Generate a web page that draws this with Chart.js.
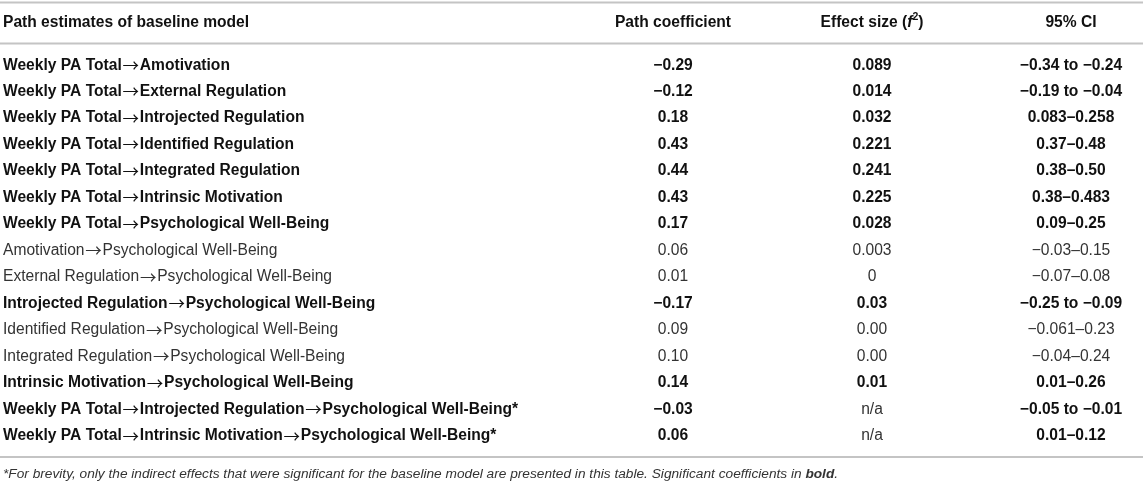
<!DOCTYPE html>
<html>
<head>
<meta charset="utf-8">
<title>Path estimates of baseline model</title>
<script src="https://cdn.jsdelivr.net/npm/chart.js@4.4.0/dist/chart.umd.min.js"></script>
<style>
  html, body { margin: 0; padding: 0; background: #fff; }
  #wrap { width: 1143px; height: 484px; position: relative; }
</style>
</head>
<body>
<div id="wrap"><canvas id="path-table"></canvas></div>
<script>
// Table content
const headers = ["Path estimates of baseline model", "Path coefficient", "Effect size", "95% CI"];

const paths = [
  "Weekly PA Total\u2192Amotivation",
  "Weekly PA Total\u2192External Regulation",
  "Weekly PA Total\u2192Introjected Regulation",
  "Weekly PA Total\u2192Identified Regulation",
  "Weekly PA Total\u2192Integrated Regulation",
  "Weekly PA Total\u2192Intrinsic Motivation",
  "Weekly PA Total\u2192Psychological Well-Being",
  "Amotivation\u2192Psychological Well-Being",
  "External Regulation\u2192Psychological Well-Being",
  "Introjected Regulation\u2192Psychological Well-Being",
  "Identified Regulation\u2192Psychological Well-Being",
  "Integrated Regulation\u2192Psychological Well-Being",
  "Intrinsic Motivation\u2192Psychological Well-Being",
  "Weekly PA Total\u2192Introjected Regulation\u2192Psychological Well-Being*",
  "Weekly PA Total\u2192Intrinsic Motivation\u2192Psychological Well-Being*"
];

const pathCoefficients = ["\u22120.29", "\u22120.12", "0.18", "0.43", "0.44", "0.43", "0.17",
  "0.06", "0.01", "\u22120.17", "0.09", "0.10", "0.14", "\u22120.03", "0.06"];

const effectSizes = ["0.089", "0.014", "0.032", "0.221", "0.241", "0.225", "0.028",
  "0.003", "0", "0.03", "0.00", "0.00", "0.01", "n/a", "n/a"];

const confidenceIntervals = [
  "\u22120.34 to \u22120.24", "\u22120.19 to \u22120.04", "0.083\u20130.258", "0.37\u20130.48",
  "0.38\u20130.50", "0.38\u20130.483", "0.09\u20130.25", "\u22120.03\u20130.15", "\u22120.07\u20130.08",
  "\u22120.25 to \u22120.09", "\u22120.061\u20130.23", "\u22120.04\u20130.24", "0.01\u20130.26",
  "\u22120.05 to \u22120.01", "0.01\u20130.12"
];

// Significant rows are set in bold
const significant = [true, true, true, true, true, true, true, false, false, true, false, false, true, true, true];

const footnote = "*For brevity, only the indirect effects that were significant for the baseline model are presented in this table. Significant coefficients in ";

const FAMILY = '"Liberation Sans", Arial, Helvetica, sans-serif';
const SIZE = "15.6px ";
const INK = "#111";
const INK_LIGHT = "#333";
const RULE = "#c4c4c4";

// Draw a run of text pieces with different fonts, centred or left-aligned
function drawRich(ctx, pieces, x, y, align) {
  let total = 0;
  pieces.forEach(function (p) {
    ctx.font = p.font;
    total += ctx.measureText(p.text).width + (p.gap || 0) * 2;
  });
  let cx = align === "center" ? x - total / 2 : x;
  ctx.textAlign = "left";
  pieces.forEach(function (p) {
    ctx.font = p.font;
    cx += p.gap || 0;
    ctx.fillText(p.text, cx, y + (p.dy || 0));
    cx += ctx.measureText(p.text).width + (p.gap || 0);
  });
}

// Split a path label so the arrows can use a font with a longer, thinner glyph
function labelPieces(label, weight) {
  const pieces = [];
  label.split("\u2192").forEach(function (part, k) {
    if (k > 0) {
      pieces.push({ text: "\u2192", font: "16.5px 'Noto Sans CJK SC', 'DejaVu Sans', sans-serif", gap: 0.8, dy: 0.5 });
    }
    pieces.push({ text: part, font: weight + SIZE + FAMILY });
  });
  return pieces;
}

const tablePlugin = {
  id: "tableText",
  afterDraw(chart) {
    const ctx = chart.ctx;
    const xs = chart.scales.x;
    const ys = chart.scales.y;
    const area = chart.chartArea;
    const left = 3;

    ctx.save();

    // Horizontal rules
    ctx.strokeStyle = RULE;
    ctx.lineWidth = 2;
    [area.top - 49.5, area.top - 8.5, area.bottom + 8].forEach(function (ly) {
      ctx.beginPath();
      ctx.moveTo(0, ly);
      ctx.lineTo(chart.width, ly);
      ctx.stroke();
    });

    // Header row
    const bold = "bold " + SIZE + FAMILY;
    const headY = area.top - 29.5;
    ctx.fillStyle = INK;
    ctx.textBaseline = "middle";
    ctx.font = bold;
    ctx.textAlign = "left";
    ctx.fillText(headers[0], left, headY);
    ctx.textAlign = "center";
    ctx.fillText(headers[1], xs.getPixelForValue(1), headY);
    drawRich(ctx, [
      { text: headers[2] + " (", font: bold },
      { text: "f", font: "italic bold " + SIZE + FAMILY },
      { text: "2", font: "bold 10.5px " + FAMILY, dy: -5 },
      { text: ")", font: bold }
    ], xs.getPixelForValue(2), headY, "center");
    ctx.font = bold;
    ctx.textAlign = "center";
    ctx.fillText(headers[3], xs.getPixelForValue(3), headY);

    // Body rows
    paths.forEach(function (label, i) {
      const ry = ys.getPixelForValue(i);
      const weight = significant[i] ? "bold " : "";
      const colour = significant[i] ? INK : INK_LIGHT;
      ctx.fillStyle = colour;
      drawRich(ctx, labelPieces(label, weight), left, ry, "left");

      ctx.font = weight + SIZE + FAMILY;
      ctx.textAlign = "center";
      ctx.fillText(pathCoefficients[i], xs.getPixelForValue(1), ry);
      ctx.fillText(confidenceIntervals[i], xs.getPixelForValue(3), ry);

      // n/a is never bold
      const na = effectSizes[i] === "n/a";
      ctx.font = (na ? "" : weight) + SIZE + FAMILY;
      ctx.fillStyle = na ? INK_LIGHT : colour;
      ctx.fillText(effectSizes[i], xs.getPixelForValue(2), ry);
    });

    // Footnote
    ctx.fillStyle = INK_LIGHT;
    drawRich(ctx, [
      { text: footnote, font: "italic 13.7px " + FAMILY },
      { text: "bold", font: "italic bold 13.7px " + FAMILY },
      { text: ".", font: "italic 13.7px " + FAMILY }
    ], left, area.bottom + 25.5, "left");

    ctx.restore();
  }
};

document.addEventListener("DOMContentLoaded", function () {
  const ctx = document.getElementById("path-table").getContext("2d");

  new Chart(ctx, {
    type: "bar",
    data: { datasets: [] },
    options: {
      responsive: true,
      maintainAspectRatio: false,
      animation: false,
      events: [],
      layout: { padding: { left: 474, right: 72, top: 52, bottom: 35 } },
      plugins: { legend: { display: false }, tooltip: { enabled: false } },
      scales: {
        x: { type: "category", labels: headers, offset: false, display: false },
        y: { type: "category", labels: paths, offset: true, display: false }
      }
    },
    plugins: [tablePlugin]
  });
});
</script>
</body>
</html>
